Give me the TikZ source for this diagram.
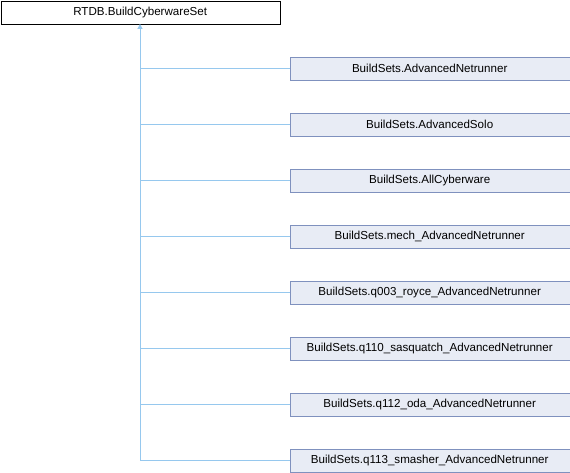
\documentclass[tikz,border=0pt]{standalone}
\usepackage{fontspec}
\setmainfont{Liberation Sans}
\usetikzlibrary{arrows.meta}
\definecolor{edgeblue}{HTML}{96C8EE}
\definecolor{childfill}{HTML}{E8ECF5}
\definecolor{childdraw}{HTML}{7F91BE}
\begin{document}
\begin{tikzpicture}[x=1pt,y=-1pt,
  basebox/.style={draw=black,fill=white,minimum width=279pt,minimum height=23pt,inner sep=0pt,font=\fontsize{11.6}{13}\selectfont},
  childbox/.style={draw=childdraw,fill=childfill,minimum width=280pt,minimum height=23pt,inner sep=0pt,font=\fontsize{11.6}{13}\selectfont},
  edge/.style={draw=edgeblue,line width=0.8pt}]
\useasboundingbox (0,0) rectangle (570,472);
\node[basebox,anchor=north west] (base) at (0.5,0.5) {RTDB.BuildCyberwareSet};
\foreach \i/\t in {0/AdvancedNetrunner,1/AdvancedSolo,2/AllCyberware,3/mech\_AdvancedNetrunner,4/q003\_royce\_AdvancedNetrunner,5/q110\_sasquatch\_AdvancedNetrunner,6/q112\_oda\_AdvancedNetrunner,7/q113\_smasher\_AdvancedNetrunner}{
  \node[childbox,anchor=west] (c\i) at (289.5,{68.5+56*\i}) {BuildSets.\t};
  \coordinate (j\i) at (140,{68.5+56*\i});
  \draw[edge] (j\i) -- (c\i.west);
}
\draw[edge,-{Triangle[length=5pt,width=5pt]}] (j7) -- (base.south -| j7);
\end{tikzpicture}
\end{document}
